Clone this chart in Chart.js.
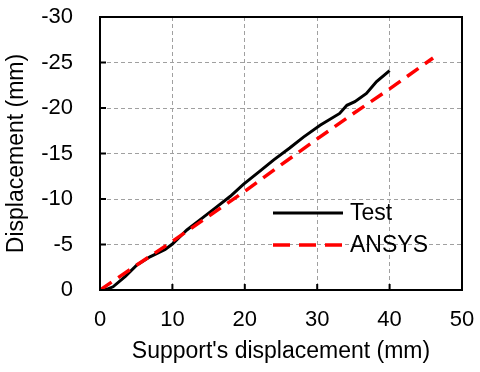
<!DOCTYPE html>
<html>
<head>
<meta charset="utf-8">
<script src="https://cdn.jsdelivr.net/npm/chart.js@4/dist/chart.umd.min.js"></script>
<style>
  html, body { margin: 0; padding: 0; background: #fff; }
</style>
</head>
<body>
<canvas id="chart" width="480" height="372"></canvas>
<script>
// measured curve: support displacement (mm) vs displacement (mm)
const testX = [0, 1, 1.8, 3.5, 5.1, 6.9, 9, 10, 12, 13.8, 15.9, 18, 19.8, 22, 24, 26.2, 28.1, 30.4, 33.1, 34.1, 35.2, 36.8, 38.2, 40];
const testY = [0, -0.1, -0.35, -1.5, -2.75, -3.65, -4.45, -5.05, -6.6, -7.7, -9, -10.3, -11.6, -13, -14.3, -15.6, -16.8, -18.1, -19.4, -20.3, -20.7, -21.6, -22.9, -24.1];

// FE result
const ansysX = [0, 5, 10, 15, 20, 25, 30, 35, 40, 46];
const ansysY = [0, -2.7, -5.35, -8.1, -10.85, -13.75, -16.6, -19.4, -22.1, -25.5];

const xTicks = [0, 10, 20, 30, 40, 50];
const yTicks = [0, -5, -10, -15, -20, -25, -30];
const legendLabels = ['Test', 'ANSYS'];

const FONT = "'Liberation Sans', Arial, sans-serif";
const COLOR_BLACK = '#000000';
const COLOR_RED = '#ff0000';
const COLOR_GRID = '#a0a0a0';

const toPoints = (xs, ys) => xs.map((x, i) => ({ x, y: ys[i] }));

// chart.js adds tick padding to the outer margin; the plot box is fixed here instead
const noEdgePadding = (scale) => {
  scale.paddingTop = 0;
  scale.paddingBottom = 0;
  scale.paddingLeft = 0;
  scale.paddingRight = 0;
};

const frame = {
  id: 'frame',
  afterDraw(chart) {
    const { ctx, chartArea } = chart;
    const { left, right, top, bottom } = chartArea;
    const xs = chart.scales.x;
    const ys = chart.scales.y;
    ctx.save();
    ctx.strokeStyle = COLOR_BLACK;
    ctx.lineWidth = 2;
    ctx.setLineDash([]);
    ctx.strokeRect(left, top, right - left, bottom - top);

    // inward tick marks
    ctx.beginPath();
    xTicks.slice(1, -1).forEach((v) => {
      const px = xs.getPixelForValue(v);
      ctx.moveTo(px, bottom);
      ctx.lineTo(px, bottom - 6);
    });
    yTicks.slice(1, -1).forEach((v) => {
      const py = ys.getPixelForValue(v);
      ctx.moveTo(left, py);
      ctx.lineTo(left + 6, py);
    });
    ctx.stroke();

    // legend inside the plot
    const lx = 273;
    const rows = [
      { y: 213, color: COLOR_BLACK, dash: [], width: 3 },
      { y: 245, color: COLOR_RED, dash: [17, 9], width: 3.5 },
    ];
    ctx.font = `23px ${FONT}`;
    ctx.textBaseline = 'middle';
    ctx.textAlign = 'left';
    rows.forEach((row, i) => {
      ctx.beginPath();
      ctx.strokeStyle = row.color;
      ctx.lineWidth = row.width;
      ctx.setLineDash(row.dash);
      ctx.moveTo(lx, row.y);
      ctx.lineTo(lx + 70, row.y);
      ctx.stroke();
      ctx.fillStyle = COLOR_BLACK;
      ctx.fillText(legendLabels[i], lx + 77, row.y + 1);
    });
    ctx.restore();
  },
};

const gridColor = (edgeValues) => (c) =>
  c.tick && edgeValues.includes(c.tick.value) ? 'rgba(0,0,0,0)' : COLOR_GRID;

new Chart(document.getElementById('chart'), {
  type: 'line',
  data: {
    datasets: [
      {
        label: legendLabels[0],
        data: toPoints(testX, testY),
        borderColor: COLOR_BLACK,
        borderWidth: 3,
        pointRadius: 0,
        tension: 0,
        order: 1,
      },
      {
        label: legendLabels[1],
        data: toPoints(ansysX, ansysY),
        borderColor: COLOR_RED,
        borderWidth: 3.5,
        borderDash: [14, 8],
        pointRadius: 0,
        tension: 0,
        order: 0,
      },
    ],
  },
  options: {
    responsive: false,
    animation: false,
    layout: { padding: { top: 17, right: 18, left: 0, bottom: 0 } },
    plugins: { legend: { display: false }, tooltip: { enabled: false } },
    scales: {
      x: {
        type: 'linear',
        min: 0,
        max: 50,
        afterFit: (scale) => {
          scale.height = 82;
          noEdgePadding(scale);
        },
        afterBuildTicks: (scale) => { scale.ticks = xTicks.map((value) => ({ value })); },
        ticks: { color: COLOR_BLACK, padding: 17, font: { family: FONT, size: 22 }, maxRotation: 0 },
        grid: { color: gridColor([0, 50]), lineWidth: 1, drawTicks: false },
        border: { display: false, dash: [4, 3] },
        title: {
          display: true,
          text: "Support's displacement (mm)",
          color: COLOR_BLACK,
          font: { family: FONT, size: 23 },
          padding: { top: 0, bottom: 7 },
        },
      },
      y: {
        type: 'linear',
        min: -30,
        max: 0,
        reverse: true,
        afterFit: (scale) => {
          scale.width = 100;
          noEdgePadding(scale);
        },
        afterBuildTicks: (scale) => { scale.ticks = yTicks.map((value) => ({ value })); },
        ticks: { color: COLOR_BLACK, padding: 27, font: { family: FONT, size: 22 } },
        grid: { color: gridColor([0, -30]), lineWidth: 1, drawTicks: false },
        border: { display: false, dash: [4, 3] },
        title: {
          display: true,
          text: 'Displacement (mm)',
          color: COLOR_BLACK,
          font: { family: FONT, size: 23 },
          padding: { top: 3, bottom: 0 },
        },
      },
    },
  },
  plugins: [frame],
});
</script>
</body>
</html>
